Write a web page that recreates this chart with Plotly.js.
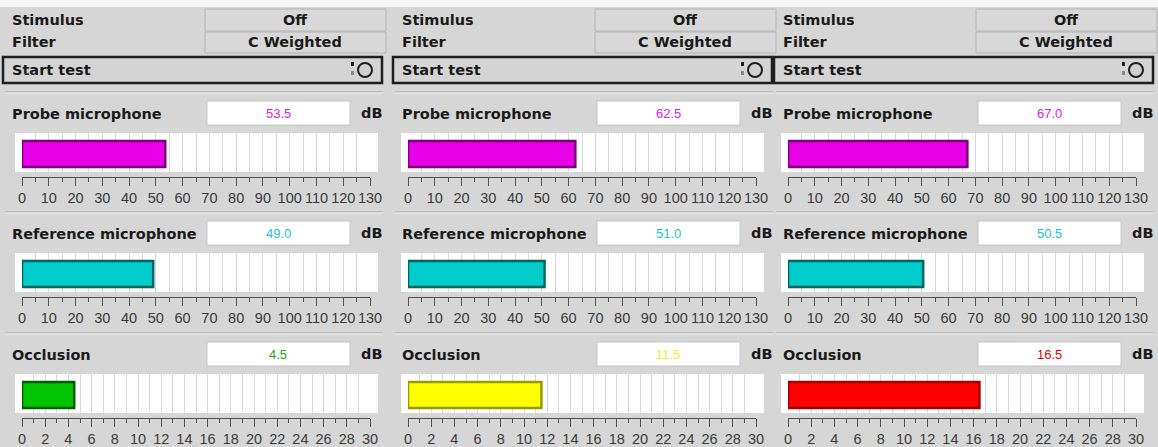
<!DOCTYPE html>
<html>
<head>
<meta charset="utf-8">
<script src="https://cdn.plot.ly/plotly-3.0.1.min.js"></script>
<style>html,body{margin:0;padding:0;background:#d6d6d6;}#chart{width:1158px;height:447px;}</style>
</head>
<body>
<div id="chart"></div>
<script>
// ---- data ----
const panelNames = ['Measurement 1', 'Measurement 2', 'Measurement 3'];
const stimulusValues = ['Off', 'Off', 'Off'];
const filterValues = ['C Weighted', 'C Weighted', 'C Weighted'];
const buttonLabels = ['Start test', 'Start test', 'Start test'];
const rowLabels = ['Probe microphone', 'Reference microphone', 'Occlusion'];
const rowUnits = ['dB', 'dB', 'dB'];
const probeValues = [53.5, 62.5, 67.0];
const referenceValues = [49.0, 51.0, 50.5];
const occlusionValues = [4.5, 11.5, 16.5];
const scaleMax = [130, 130, 30];
const majorStep = [10, 10, 2];
const minorStep = [5, 5, 1];

// ---- styles ----
const probeStyle = {fill: '#e800e8', edge: '#7a007a', text: '#e020e0'};
const refStyle = {fill: '#00cccc', edge: '#006464', text: '#20c4d0'};
const occlusionStyles = [
  {fill: '#00c400', edge: '#005a00', text: '#22aa22'},
  {fill: '#ffff00', edge: '#9a9a00', text: '#f0f020'},
  {fill: '#ff0000', edge: '#a00000', text: '#e00000'}
];

const W = 1158, H = 447;
const px = x => x / W;
const py = y => 1 - y / H;
const panelOff = [0, 390, 771];
const axisStart = [22, 408, 788];
const axisWidth = 348;
const rowOff = [0, 120, 241];
const LBL = 'DejaVu Sans, Verdana, sans-serif';
const TICKF = 'Liberation Sans, Arial, sans-serif';

const rowValues = [probeValues, referenceValues, occlusionValues];
const traces = [];
const shapes = [];
const annotations = [];
const layout = {
  width: W, height: H,
  margin: {l: 0, r: 0, t: 0, b: 0},
  paper_bgcolor: '#d6d6d6',
  plot_bgcolor: 'rgba(0,0,0,0)',
  showlegend: false,
  bargap: 0,
  barmode: 'overlay'
};

function rect(x0, y0, x1, y1, fill, line, lw, layer) {
  shapes.push({type: 'rect', xref: 'paper', yref: 'paper', x0: px(x0), x1: px(x1), y0: py(y1), y1: py(y0),
    fillcolor: fill, line: {color: line || 'rgba(0,0,0,0)', width: lw || 0}, layer: layer || 'below'});
}
function hline(x0, x1, y, color, w) {
  shapes.push({type: 'line', xref: 'paper', yref: 'paper', x0: px(x0), x1: px(x1), y0: py(y), y1: py(y),
    line: {color: color, width: w || 1}, layer: 'below'});
}
function text(x, y, t, opts) {
  opts = opts || {};
  annotations.push({xref: 'paper', yref: 'paper', x: px(x), y: py(y), text: t, showarrow: false,
    xanchor: opts.anchor || 'left', yanchor: 'middle',
    font: {family: opts.family || LBL, size: opts.size || 14.5, color: opts.color || '#1a1a1a', weight: opts.weight || 'bold'}});
}

// top white strip
rect(0, 0, W, 7, '#f6f6f6');

let k = 0;
for (let p = 0; p < panelNames.length; p++) {
  const o = panelOff[p];
  // header
  text(o + 10, 20, 'Stimulus');
  text(o + 10, 42, 'Filter');
  rect(o + 205, 9, o + 386, 31, '#d8d8d8', '#b4b4b4', 1);
  rect(o + 205, 32, o + 386, 53, '#d8d8d8', '#b4b4b4', 1);
  text(o + 295, 20, stimulusValues[p], {anchor: 'center'});
  text(o + 295, 42, filterValues[p], {anchor: 'center'});
  // start test box
  rect(o + 3, 57, o + 382, 83, '#d4d4d4', '#1e1e1e', 2.5);
  text(o + 10, 70, buttonLabels[p]);
  rect(o + 351, 62, o + 354, 66, '#1e1e1e');
  rect(o + 351, 71, o + 354, 75, '#8a8a8a');
  shapes.push({type: 'circle', xref: 'paper', yref: 'paper', x0: px(o + 358), x1: px(o + 372), y0: py(77), y1: py(63),
    fillcolor: '#d0d0d0', line: {color: '#1e1e1e', width: 2}, layer: 'below'});

  for (let r = 0; r < rowLabels.length; r++) {
    k++;
    const ro = rowOff[r];
    const val = rowValues[r][p];
    const st = r === 0 ? probeStyle : (r === 1 ? refStyle : occlusionStyles[p]);
    // separator
    hline(o + 5, o + 383, 92 + ro, '#a4a4a4', 1);
    hline(o + 5, o + 383, 93 + ro, '#f2f2f2', 1);
    // label row
    text(o + 10, 114 + ro, rowLabels[r]);
    rect(o + 207, 101 + ro, o + 350, 125 + ro, '#ffffff', '#c4c4c4', 1);
    text(o + 278, 113 + ro, val.toFixed(1), {anchor: 'center', size: 13, weight: 'normal', color: st.text, family: TICKF});
    text(o + 371, 113 + ro, rowUnits[r], {anchor: 'center'});
    // track
    const ax0 = axisStart[p];
    rect(ax0 - 7, 133 + ro, ax0 + axisWidth + 8, 172 + ro, '#ffffff');

    const xa = 'xaxis' + (k === 1 ? '' : k);
    const ya = 'yaxis' + (k === 1 ? '' : k);
    layout[xa] = {
      domain: [px(ax0), px(ax0 + axisWidth)],
      range: [0, scaleMax[r]],
      anchor: 'free', position: py(177 + ro), side: 'bottom',
      showline: true, linecolor: '#505050', linewidth: 1,
      ticks: 'outside', ticklen: 8, tickwidth: 1, tickcolor: '#505050',
      tick0: 0, dtick: majorStep[r], tickangle: 0,
      showgrid: true, gridcolor: '#d8d8d8', gridwidth: 1,
      zeroline: false, fixedrange: true,
      tickfont: {family: TICKF, size: 14.5, color: '#3a3a3a'},
      minor: {tick0: 0, dtick: minorStep[r], ticks: 'outside', ticklen: 4, tickcolor: '#505050', showgrid: true, gridcolor: '#d8d8d8'}
    };
    layout[ya] = {
      domain: [py(172 + ro), py(133 + ro)],
      range: [0, 39], visible: false, fixedrange: true,
      anchor: 'x' + (k === 1 ? '' : k)
    };
    traces.push({
      type: 'bar', orientation: 'h',
      x: [val], y: [18], width: [26], base: 0,
      xaxis: 'x' + (k === 1 ? '' : k), yaxis: 'y' + (k === 1 ? '' : k),
      marker: {color: st.fill, line: {color: st.edge, width: 2.5}},
      hoverinfo: 'skip', name: panelNames[p] + ' ' + rowLabels[r]
    });
  }
}
layout.shapes = shapes;
layout.annotations = annotations;
Plotly.newPlot('chart', traces, layout, {displayModeBar: false, staticPlot: true});
</script>
</body>
</html>
